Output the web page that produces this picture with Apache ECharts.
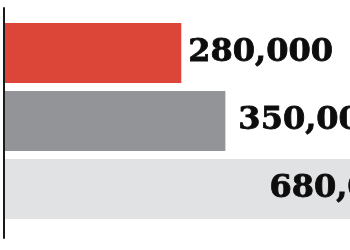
<!DOCTYPE html>
<html><head><meta charset="utf-8">
<script src="https://cdn.jsdelivr.net/npm/echarts@6/dist/echarts.min.js"></script>
<style>html,body{margin:0;padding:0;background:#fff}#c{width:350px;height:250px}</style>
</head><body><div id="c"></div>
<script>
const categories = ['A', 'B', 'C'];
const values = [280000, 350000, 680000];
const valueLabels = ['280,000', '350,000', '680,000'];

const colors = ['#dc4639', '#939497', '#e1e2e4'];
const labelPos = ['right', 'right', 'insideRight'];
const labelGap = [7, 13, 19];

const chart = echarts.init(document.getElementById('c'), null, {renderer: 'canvas'});
chart.setOption({
  animation: false,
  grid: [
    {left: 5, top: 19, width: 340, height: 204},
    {left: 4, top: 8, width: 340, height: 230}
  ],
  xAxis: [
    {gridIndex: 0, type: 'value', min: 0, max: 540000, show: false},
    {gridIndex: 1, type: 'value', min: 0, max: 1, show: false}
  ],
  yAxis: [
    {gridIndex: 0, type: 'category', data: categories, inverse: true, show: false},
    {gridIndex: 1, type: 'category', data: [''], axisLine: {show: true, onZero: false, lineStyle: {color: '#1a1a1a', width: 2}},
     axisTick: {show: false}, axisLabel: {show: false}}
  ],
  series: [{
    type: 'bar',
    clip: false,
    barWidth: 60,
    data: values.map((v, i) => ({
      value: v,
      itemStyle: {color: colors[i]},
      label: {show: true, position: labelPos[i], distance: labelGap[i],
        formatter: valueLabels[i],
        fontFamily: 'DejaVu Serif', fontWeight: 'bold', fontSize: 32, color: '#0d0d0d',
        textBorderColor: '#0d0d0d', textBorderWidth: 0.8}
    }))
  }]
});
</script></body></html>
